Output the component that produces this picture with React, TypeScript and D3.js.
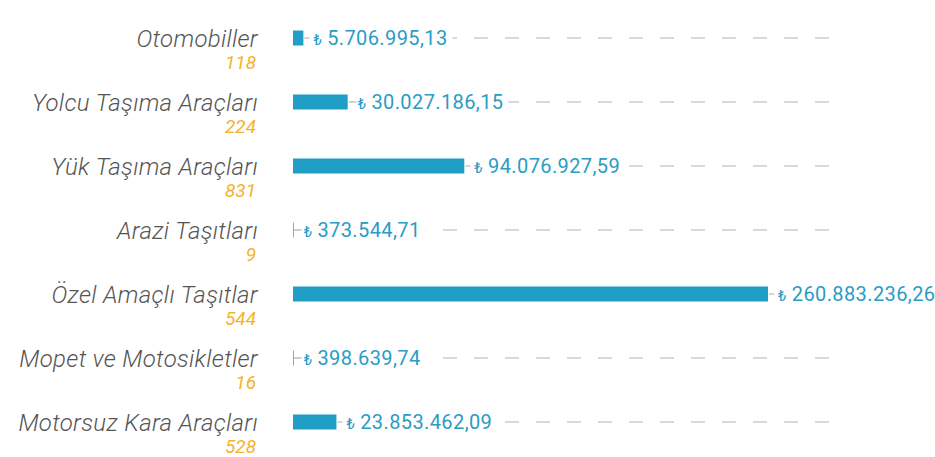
import React, { useEffect, useRef } from 'react'
import * as d3 from 'd3'

const categories = [
  'Otomobiller',
  'Yolcu Taşıma Araçları',
  'Yük Taşıma Araçları',
  'Arazi Taşıtları',
  'Özel Amaçlı Taşıtlar',
  'Mopet ve Motosikletler',
  'Motorsuz Kara Araçları',
]
const counts = [118, 224, 831, 9, 544, 16, 528]
const amounts = [
  5706995.13, 30027186.15, 94076927.59, 373544.71, 260883236.26, 398639.74, 23853462.09,
]

const W = 935
const H = 457

const fmt = (v: number) => {
  const [i, f] = v.toFixed(2).split('.')
  return i.replace(/\B(?=(\d{3})+(?!\d))/g, '.') + ',' + f
}

export default function App() {
  const svgRef = useRef<SVGSVGElement>(null)

  useEffect(() => {
    if (!svgRef.current) return
    const svg = d3.select(svgRef.current)
    svg.selectAll('*').remove()

    const x = d3.scaleLinear().domain([0, d3.max(amounts)!]).range([293, 768])
    const y = d3.scaleBand<number>().domain(d3.range(categories.length)).range([6, 454]).padding(0)

    const rows = svg
      .selectAll('g.row')
      .data(categories)
      .join('g')
      .attr('class', 'row')
      .attr('transform', (_, i) => `translate(0,${y(i)! + y.bandwidth() / 2})`)

    // dashed guide
    rows
      .append('line')
      .attr('x1', 293)
      .attr('x2', 840)
      .attr('stroke', '#d9d9d9')
      .attr('stroke-width', 2)
      .attr('stroke-dasharray', '14 17')
      .attr('stroke-dashoffset', 5)

    rows
      .append('rect')
      .attr('x', x(0))
      .attr('y', -7.5)
      .attr('height', 15)
      .attr('width', (_, i) => x(amounts[i]) - x(0))
      .attr('fill', '#219ec6')

    rows
      .append('text')
      .attr('x', 258)
      .attr('y', 8.5)
      .attr('text-anchor', 'end')
      .attr('font-family', 'Roboto')
      .attr('font-weight', 300)
      .attr('font-style', 'italic')
      .attr('font-size', 24)
      .attr('letter-spacing', 0.3)
      .attr('fill', '#555')
      .text((d) => d)

    rows
      .append('text')
      .attr('x', 256)
      .attr('y', 31)
      .attr('text-anchor', 'end')
      .attr('font-family', 'Roboto')
      .attr('font-style', 'italic')
      .attr('font-size', 19)
      .attr('fill', '#f6b22c')
      .text((_, i) => counts[i])

    rows.each(function (_, i) {
      const g = d3.select(this)
      const x0 = x(amounts[i])
      const bg = g.append('rect').attr('fill', '#fff')
      g.append('line')
        .attr('x1', x0 + 1)
        .attr('x2', x0 + 6)
        .attr('stroke', '#c8c8c8')
        .attr('stroke-width', 1.5)
      const t = g
        .append('text')
        .attr('x', x0 + 10)
        .attr('y', 7)
        .attr('font-family', 'Roboto')
        .attr('font-size', 20)
        .attr('letter-spacing', 0.4)
        .attr('fill', '#2a9cc5')
      t.append('tspan').attr('font-size', 15).text('₺')
      t.append('tspan').attr('dx', 5).text(fmt(amounts[i]))
      const bb = (t.node() as SVGTextElement).getBBox()
      bg.attr('x', bb.x - 1)
        .attr('y', -6)
        .attr('width', bb.width + 6)
        .attr('height', 12)
    })
  }, [])

  return (
    <svg
      ref={svgRef}
      width={W}
      height={H}
      style={{ position: 'absolute', left: 0, top: 0, display: 'block' }}
    />
  )
}
